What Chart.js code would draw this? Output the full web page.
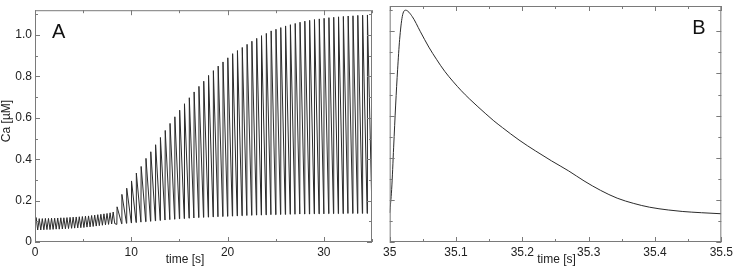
<!DOCTYPE html>
<html>
<head>
<meta charset="utf-8">
<script src="https://cdn.jsdelivr.net/npm/chart.js@4.4.0/dist/chart.umd.min.js"></script>
<style>
  body { margin: 0; background: #fff; }
  #wrap { position: relative; width: 736px; height: 266px; }
  canvas { position: absolute; top: 0; }
</style>
</head>
<body>
<div id="wrap">
  <canvas id="chartA" width="380" height="266" style="left:0"></canvas>
  <canvas id="chartB" width="356" height="266" style="left:380px"></canvas>
</div>
<script>
// Panel A, 0 - 8.3 s: small oscillations (peak / trough times and values)
const waveStartCa = 0.075;
const wavePeakT = [0.12, 0.44, 0.76, 1.08, 1.40, 1.72, 2.04, 2.36, 2.68, 3.00, 3.32, 3.64, 3.96,
                   4.28, 4.60, 4.92, 5.24, 5.56, 5.88, 6.20, 6.52, 6.84, 7.16, 7.48, 7.80, 8.12];
const wavePeak  = [0.118, 0.113, 0.113, 0.114, 0.114, 0.115, 0.115, 0.116, 0.117, 0.117, 0.118, 0.119, 0.120,
                   0.121, 0.122, 0.123, 0.125, 0.126, 0.128, 0.130, 0.132, 0.134, 0.136, 0.138, 0.141, 0.145];
const waveLowT  = [0.28, 0.60, 0.92, 1.24, 1.56, 1.88, 2.20, 2.52, 2.84, 3.16, 3.48, 3.80, 4.12,
                   4.44, 4.76, 5.08, 5.40, 5.72, 6.04, 6.36, 6.68, 7.00, 7.32, 7.64, 7.96, 8.28];
const waveLow   = [0.058, 0.058, 0.059, 0.060, 0.060, 0.061, 0.062, 0.062, 0.063, 0.064, 0.065, 0.066, 0.067,
                   0.068, 0.069, 0.070, 0.072, 0.073, 0.075, 0.077, 0.079, 0.081, 0.083, 0.085, 0.087, 0.089];

// Panel A, 8.5 - 35 s: spikes (start time, trough before the spike, spike peak)
const spikeT = [8.5, 9.0, 9.5, 10.0, 10.5, 11.0, 11.5, 12.0, 12.5, 13.0, 13.5, 14.0, 14.5, 15.0,
                15.5, 16.0, 16.5, 17.0, 17.5, 18.0, 18.5, 19.0, 19.5, 20.0, 20.5, 21.0, 21.5, 22.0,
                22.5, 23.0, 23.5, 24.0, 24.5, 25.0, 25.5, 26.0, 26.5, 27.0, 27.5, 28.0, 28.5, 29.0,
                29.5, 30.0, 30.5, 31.0, 31.5, 32.0, 32.5, 33.0, 33.5, 34.0, 34.5, 35.0];
const spikeLow = [0.085, 0.088, 0.090, 0.092, 0.094, 0.096, 0.098, 0.100, 0.102, 0.104, 0.106, 0.108, 0.110, 0.112,
                  0.113, 0.115, 0.116, 0.118, 0.119, 0.120, 0.121, 0.122, 0.123, 0.124, 0.125, 0.126, 0.127, 0.128,
                  0.129, 0.130, 0.130, 0.131, 0.132, 0.132, 0.133, 0.133, 0.134, 0.134, 0.135, 0.135, 0.135, 0.136,
                  0.136, 0.136, 0.137, 0.137, 0.137, 0.137, 0.138, 0.138, 0.138, 0.138, 0.138, 0.138];
const spikePeak = [0.17, 0.23, 0.26, 0.295, 0.333, 0.365, 0.404, 0.436, 0.47, 0.505, 0.539, 0.573, 0.605, 0.637,
                   0.668, 0.697, 0.725, 0.752, 0.777, 0.805, 0.828, 0.85, 0.87, 0.89, 0.91, 0.925, 0.94, 0.955,
                   0.97, 0.984, 0.997, 1.008, 1.02, 1.028, 1.036, 1.044, 1.05, 1.056, 1.062, 1.067, 1.071, 1.075,
                   1.078, 1.081, 1.084, 1.086, 1.088, 1.09, 1.092, 1.093, 1.095, 1.096, 1.097, 1.10];
const riseTime = 0.025;

// Panel B: one spike, 35.0 - 35.5 s
const tB  = [35.000, 35.003, 35.006, 35.009, 35.012, 35.015, 35.019, 35.024, 35.034, 35.046,
             35.059, 35.071, 35.083, 35.096, 35.108, 35.120, 35.133, 35.145, 35.157, 35.170,
             35.195, 35.220, 35.244, 35.270, 35.293, 35.318, 35.343, 35.368, 35.392, 35.420,
             35.441, 35.470, 35.500];
const caB = [0.138, 0.25, 0.45, 0.65, 0.82, 0.96, 1.07, 1.10, 1.07, 1.00,
             0.925, 0.865, 0.81, 0.76, 0.718, 0.68, 0.642, 0.608, 0.575, 0.543,
             0.484, 0.432, 0.385, 0.337, 0.29, 0.245, 0.208, 0.183, 0.165, 0.152,
             0.145, 0.139, 0.134];

const FONT = "'Liberation Sans', Arial, sans-serif";

const pointsA = [{ x: 0, y: waveStartCa }];
for (let i = 0; i < wavePeakT.length; i++) {
  pointsA.push({ x: wavePeakT[i], y: wavePeak[i] });
  pointsA.push({ x: waveLowT[i], y: waveLow[i] });
}
for (let i = 0; i < spikeT.length; i++) {
  pointsA.push({ x: spikeT[i], y: spikeLow[i] });
  pointsA.push({ x: spikeT[i] + riseTime, y: spikePeak[i] });
}
const pointsB = tB.map((t, i) => ({ x: t, y: caB[i] }));

// frame, inward ticks on all sides, panel letter and axis titles
const framePlugin = {
  id: 'frame',
  afterDraw(chart, args, o) {
    const { ctx, chartArea: a, scales: { x, y } } = chart;
    ctx.save();
    ctx.strokeStyle = '#7a7a7a';
    ctx.lineWidth = 1;
    ctx.strokeRect(a.left + 0.5, a.top + 0.5, a.right - a.left - 1, a.bottom - a.top - 1);
    ctx.beginPath();
    const nx = Math.round((o.xMax - o.xMin) / o.xMinor);
    for (let i = 0; i <= nx; i++) {
      const px = Math.round(x.getPixelForValue(o.xMin + i * o.xMinor)) + 0.5;
      const len = i % 2 === 0 ? 5 : 3;
      ctx.moveTo(px, a.bottom); ctx.lineTo(px, a.bottom - len);
      ctx.moveTo(px, a.top); ctx.lineTo(px, a.top + len);
    }
    for (let i = 0; i <= 11; i++) {
      const py = Math.round(y.getPixelForValue(i * 0.1)) + 0.5;
      const len = i % 2 === 0 ? 5 : 3;
      ctx.moveTo(a.left, py); ctx.lineTo(a.left + len, py);
      ctx.moveTo(a.right, py); ctx.lineTo(a.right - len, py);
    }
    ctx.stroke();

    ctx.fillStyle = '#111';
    ctx.font = '20px ' + FONT;
    ctx.textBaseline = 'alphabetic';
    ctx.textAlign = 'left';
    ctx.fillText(o.letter, o.letterRight ? a.right - 29 : a.left + 17, a.top + 28);

    ctx.fillStyle = '#222';
    ctx.font = '12px ' + FONT;
    ctx.textAlign = 'center';
    ctx.fillText('time [s]', a.left + o.titleFrac * (a.right - a.left), 263);
    if (o.yTitle) {
      ctx.translate(10, 121);
      ctx.rotate(-Math.PI / 2);
      ctx.fillText(o.yTitle, 0, 0);
    }
    ctx.restore();
  }
};

function makeChart(id, points, xMin, xMax, xStep, showY, pad, yWidth, smooth, frameOpts) {
  return new Chart(document.getElementById(id), {
    type: 'line',
    data: {
      datasets: [{
        data: points,
        borderColor: '#2b2b2b',
        borderWidth: 1,
        pointRadius: 0,
        tension: 0,
        cubicInterpolationMode: smooth ? 'monotone' : 'default',
        fill: false
      }]
    },
    options: {
      responsive: false,
      animation: false,
      devicePixelRatio: 1,
      layout: { padding: pad },
      plugins: { legend: { display: false }, tooltip: { enabled: false }, frame: frameOpts },
      scales: {
        x: {
          type: 'linear', min: xMin, max: xMax,
          grid: { display: false, tickLength: 0 }, border: { display: false },
          ticks: {
            stepSize: xStep, includeBounds: false, maxRotation: 0, padding: 3,
            color: '#222', font: { family: FONT, size: 12 },
            callback: v => (Math.abs(v - Math.round(v)) < 1e-6 ? String(Math.round(v)) : v.toFixed(1))
          },
          afterFit: s => { s.height = 24; }
        },
        y: {
          min: 0, max: 1.12,
          grid: { display: false, tickLength: 0 }, border: { display: false },
          ticks: {
            display: showY, stepSize: 0.2, includeBounds: false, padding: 3,
            color: '#222', font: { family: FONT, size: 12 },
            callback: v => (Math.abs(v) < 1e-6 ? '0' : v.toFixed(1))
          },
          afterFit: s => { s.width = yWidth; }
        }
      }
    },
    plugins: [framePlugin]
  });
}

makeChart('chartA', pointsA, 0, 35, 10, true, { left: 0, top: 6, right: 8, bottom: 0 }, 35, false,
  { xMin: 0, xMax: 35, xMinor: 5, letter: 'A', letterRight: false, titleFrac: 0.445, yTitle: 'Ca [\u00b5M]' });
makeChart('chartB', pointsB, 35, 35.5, 0.1, false, { left: 0, top: 6, right: 11, bottom: 0 }, 7, true,
  { xMin: 35, xMax: 35.5, xMinor: 0.05, letter: 'B', letterRight: true, titleFrac: 0.503 });
</script>
</body>
</html>
